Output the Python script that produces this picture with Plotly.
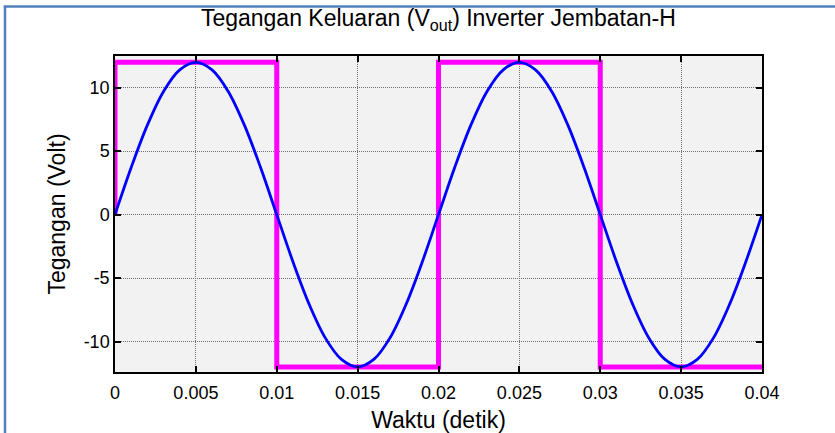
import plotly.graph_objects as go

# Time samples (s) and the sinusoidal reference voltage (V)
t_sine = [i / 1000 for i in range(41)]
v_sine = [0, 3.71, 7.05, 9.71, 11.41, 12, 11.41, 9.71, 7.05, 3.71,
          0, -3.71, -7.05, -9.71, -11.41, -12, -11.41, -9.71, -7.05, -3.71,
          0, 3.71, 7.05, 9.71, 11.41, 12, 11.41, 9.71, 7.05, 3.71,
          0, -3.71, -7.05, -9.71, -11.41, -12, -11.41, -9.71, -7.05, -3.71,
          0]

# H-bridge square-wave output
t_square = [0, 0, 0.01, 0.01, 0.02, 0.02, 0.03, 0.03, 0.04]
v_square = [0, 12, 12, -12, -12, 12, 12, -12, -12]

x_ticks = [0, 0.005, 0.01, 0.015, 0.02, 0.025, 0.03, 0.035, 0.04]
x_tick_text = ["0", "0.005", "0.01", "0.015", "0.02", "0.025", "0.03", "0.035", "0.04"]
y_ticks = [-10, -5, 0, 5, 10]
y_tick_text = ["-10", "-5", "0", "5", "10"]

FONT = "Liberation Sans, Arial, sans-serif"

fig = go.Figure()
fig.add_trace(go.Scatter(
    x=t_square, y=v_square, mode="lines",
    line=dict(color="#ff00ff", width=5), hoverinfo="skip", showlegend=False))
fig.add_trace(go.Scatter(
    x=t_sine, y=v_sine, mode="lines",
    line=dict(color="#0000ff", width=2.8, shape="spline", smoothing=1.0),
    hoverinfo="skip", showlegend=False))

axis_common = dict(
    automargin=False,
    showline=True, linecolor="black", linewidth=1.5, mirror="ticks",
    ticks="inside", ticklen=6, tickwidth=1.5, tickcolor="black",
    showgrid=True, gridcolor="#6f6f6f", gridwidth=1, griddash="1px,1px",
    zeroline=False, tickfont=dict(family=FONT, size=18, color="black"),
)

fig.update_xaxes(
    range=[0, 0.04], tickvals=x_ticks, ticktext=x_tick_text, ticklabelstandoff=4,
    title=dict(text="Waktu (detik)", font=dict(family=FONT, size=23, color="black"), standoff=11),
    **axis_common)
fig.update_yaxes(
    range=[-12.4, 12.5], tickvals=y_ticks, ticktext=y_tick_text,
    title=dict(text="Tegangan (Volt)", font=dict(family=FONT, size=23, color="black"), standoff=12),
    **axis_common)

# Frame around the figure (left and top edges)
frame = dict(type="line", xref="paper", yref="paper",
             line=dict(color="#4f81bd", width=2.5), layer="above")
fig.add_shape(x0=-0.170, x1=-0.170, y0=-0.2, y1=1.1566, **frame)
fig.add_shape(x0=-0.172, x1=1.12, y0=1.1566, y1=1.1566, **frame)

fig.update_layout(
    width=835, height=433,
    margin=dict(l=115, r=73, t=56, b=61),
    paper_bgcolor="white", plot_bgcolor="#f2f2f2",
    title=dict(text="Tegangan Keluaran (V<sub>out</sub>) Inverter Jembatan-H",
               font=dict(family=FONT, size=23, color="black"),
               x=0.525, xanchor="center", y=1 - 18 / 433, yanchor="middle", yref="container"),
    font=dict(family=FONT),
)

fig.write_html("out.html")
